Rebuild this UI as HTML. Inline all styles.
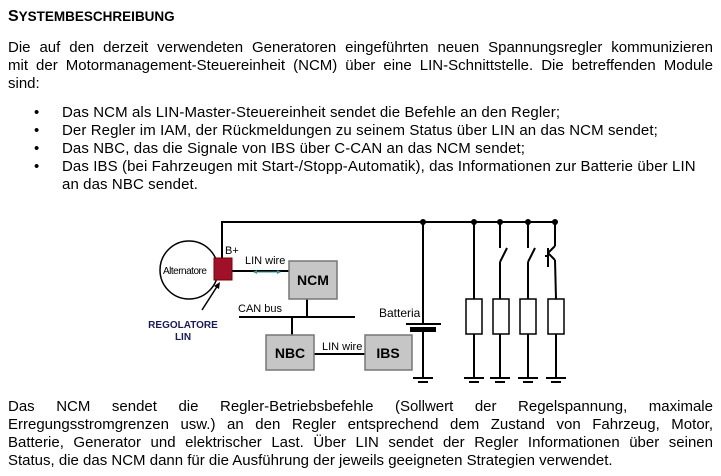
<!DOCTYPE html>
<html><head><meta charset="utf-8"><style>
body{margin:0;width:721px;height:476px;background:#fff;position:relative;overflow:hidden;font-family:"Liberation Sans",sans-serif;color:#000}
.l{position:absolute;left:8px;font-size:15px;line-height:18px;white-space:nowrap}
.j{width:705px;text-align:justify;text-align-last:justify;white-space:normal}
.b{position:absolute;left:34px;font-size:15px;line-height:18px}
.bt{position:absolute;left:62px;font-size:15px;line-height:18px;white-space:nowrap;letter-spacing:0.1px}
svg{position:absolute;left:0;top:0}
</style></head><body>
<div class="l" style="top:8px;font-weight:bold;font-size:16px">S<span style="font-size:13.5px">YSTEMBESCHREIBUNG</span></div>
<div class="l j" style="top:39px">Die auf den derzeit verwendeten Generatoren eingeführten neuen Spannungsregler kommunizieren</div>
<div class="l j" style="top:57px">mit der Motormanagement-Steuereinheit (NCM) über eine LIN-Schnittstelle. Die betreffenden Module</div>
<div class="l" style="top:75px">sind:</div>
<div class="b" style="top:104px">•</div><div class="bt" style="top:104px">Das NCM als LIN-Master-Steuereinheit sendet die Befehle an den Regler;</div>
<div class="b" style="top:122px">•</div><div class="bt" style="top:122px">Der Regler im IAM, der Rückmeldungen zu seinem Status über LIN an das NCM sendet;</div>
<div class="b" style="top:140px">•</div><div class="bt" style="top:140px">Das NBC, das die Signale von IBS über C-CAN an das NCM sendet;</div>
<div class="b" style="top:158px">•</div><div class="bt" style="top:158px">Das IBS (bei Fahrzeugen mit Start-/Stopp-Automatik), das Informationen zur Batterie über LIN</div>
<div class="bt" style="top:176px">an das NBC sendet.</div>

<svg width="721" height="476" font-family="Liberation Sans, sans-serif">
<g stroke="#000" stroke-width="2" fill="none">
<polyline points="222,258 222,222 555,222"/>
<line x1="232" y1="271" x2="289" y2="271"/>
<line x1="307" y1="299" x2="307" y2="317"/>
<line x1="239" y1="317" x2="355" y2="317"/>
<line x1="292" y1="317" x2="292" y2="335"/>
<line x1="314" y1="354" x2="365" y2="354"/>
<line x1="423" y1="222" x2="423" y2="324"/>
<line x1="406" y1="324" x2="441" y2="324"/>
<line x1="423" y1="331" x2="423" y2="378"/>
<line x1="413" y1="378" x2="433" y2="378"/>
<line x1="474" y1="222" x2="474" y2="299"/>
<line x1="500" y1="222" x2="500" y2="248"/><line x1="500" y1="262" x2="507" y2="248"/><line x1="500" y1="262" x2="500" y2="299"/>
<line x1="528" y1="222" x2="528" y2="248"/><line x1="528" y1="262" x2="535" y2="248"/><line x1="528" y1="262" x2="528" y2="299"/>
<line x1="555" y1="222" x2="555" y2="246"/><line x1="555" y1="246" x2="548" y2="253"/><line x1="548" y1="253" x2="555" y2="260"/><line x1="548" y1="248" x2="548" y2="267"/><line x1="545" y1="256" x2="548" y2="256"/><line x1="555" y1="260" x2="556" y2="299"/>
<line x1="474" y1="334" x2="474" y2="378"/><line x1="500" y1="334" x2="500" y2="378"/><line x1="528" y1="334" x2="528" y2="378"/><line x1="556" y1="334" x2="556" y2="378"/>
<line x1="464" y1="378" x2="484" y2="378"/><line x1="490" y1="378" x2="510" y2="378"/><line x1="518" y1="378" x2="538" y2="378"/><line x1="546" y1="378" x2="566" y2="378"/>
</g>
<g stroke="#000" stroke-width="2"><line x1="418" y1="382" x2="428" y2="382"/><line x1="469" y1="382" x2="479" y2="382"/><line x1="495" y1="382" x2="505" y2="382"/><line x1="523" y1="382" x2="533" y2="382"/><line x1="551" y1="382" x2="561" y2="382"/></g>
<rect x="410" y="327" width="26" height="5" fill="#000"/>
<g fill="#fff" stroke="#000" stroke-width="1.5">
<rect x="466" y="299" width="16" height="35"/><rect x="493" y="299" width="16" height="35"/><rect x="520" y="299" width="16" height="35"/><rect x="548" y="299" width="16" height="35"/>
</g>
<g fill="#000"><circle cx="423" cy="222" r="3"/><circle cx="474" cy="222" r="3"/><circle cx="500" cy="222" r="3"/><circle cx="528" cy="222" r="3"/><circle cx="555" cy="222" r="3"/></g>
<circle cx="189" cy="270" r="29" fill="none" stroke="#000" stroke-width="1.5"/>
<rect x="214" y="258" width="18" height="22" fill="#a01028" stroke="#700" stroke-width="1"/>
<g fill="#c6c6c6" stroke="#777" stroke-width="1.5">
<rect x="289" y="261" width="48" height="38"/><rect x="266" y="335" width="48" height="35"/><rect x="365" y="335" width="47" height="35"/>
</g>
<line x1="255" y1="272" x2="279" y2="272" stroke="#2a9a9a" stroke-width="1"/>
<path d="M253,272 l4,-2 v4z M281,272 l-4,-2 v4z" fill="#2a9a9a"/>
<line x1="202" y1="310" x2="218" y2="285" stroke="#000" stroke-width="1.5"/>
<path d="M220,282 l-1,7 -5,-3z" fill="#000"/>
<g font-size="11">
<text x="163" y="274" font-size="10" letter-spacing="-0.5">Alternatore</text>
<text x="225" y="254">B+</text>
<text x="245" y="264">LIN wire</text>
<text x="238" y="312">CAN bus</text>
<text x="322" y="350">LIN wire</text>
<text x="379" y="317" font-size="12">Batteria</text>
</g>
<g font-weight="bold" font-size="14" text-anchor="middle">
<text x="313" y="285">NCM</text><text x="290" y="358">NBC</text><text x="388" y="358">IBS</text>
</g>
<g font-weight="bold" font-size="10" fill="#1a1a5a" text-anchor="middle"><text x="183" y="328">REGOLATORE</text><text x="183" y="340">LIN</text></g>
</svg>

<div class="l j" style="top:398px">Das NCM sendet die Regler-Betriebsbefehle (Sollwert der Regelspannung, maximale</div>
<div class="l j" style="top:416px">Erregungsstromgrenzen usw.) an den Regler entsprechend dem Zustand von Fahrzeug, Motor,</div>
<div class="l j" style="top:434px">Batterie, Generator und elektrischer Last. Über LIN sendet der Regler Informationen über seinen</div>
<div class="l" style="top:452px">Status, die das NCM dann für die Ausführung der jeweils geeigneten Strategien verwendet.</div>
</body></html>
